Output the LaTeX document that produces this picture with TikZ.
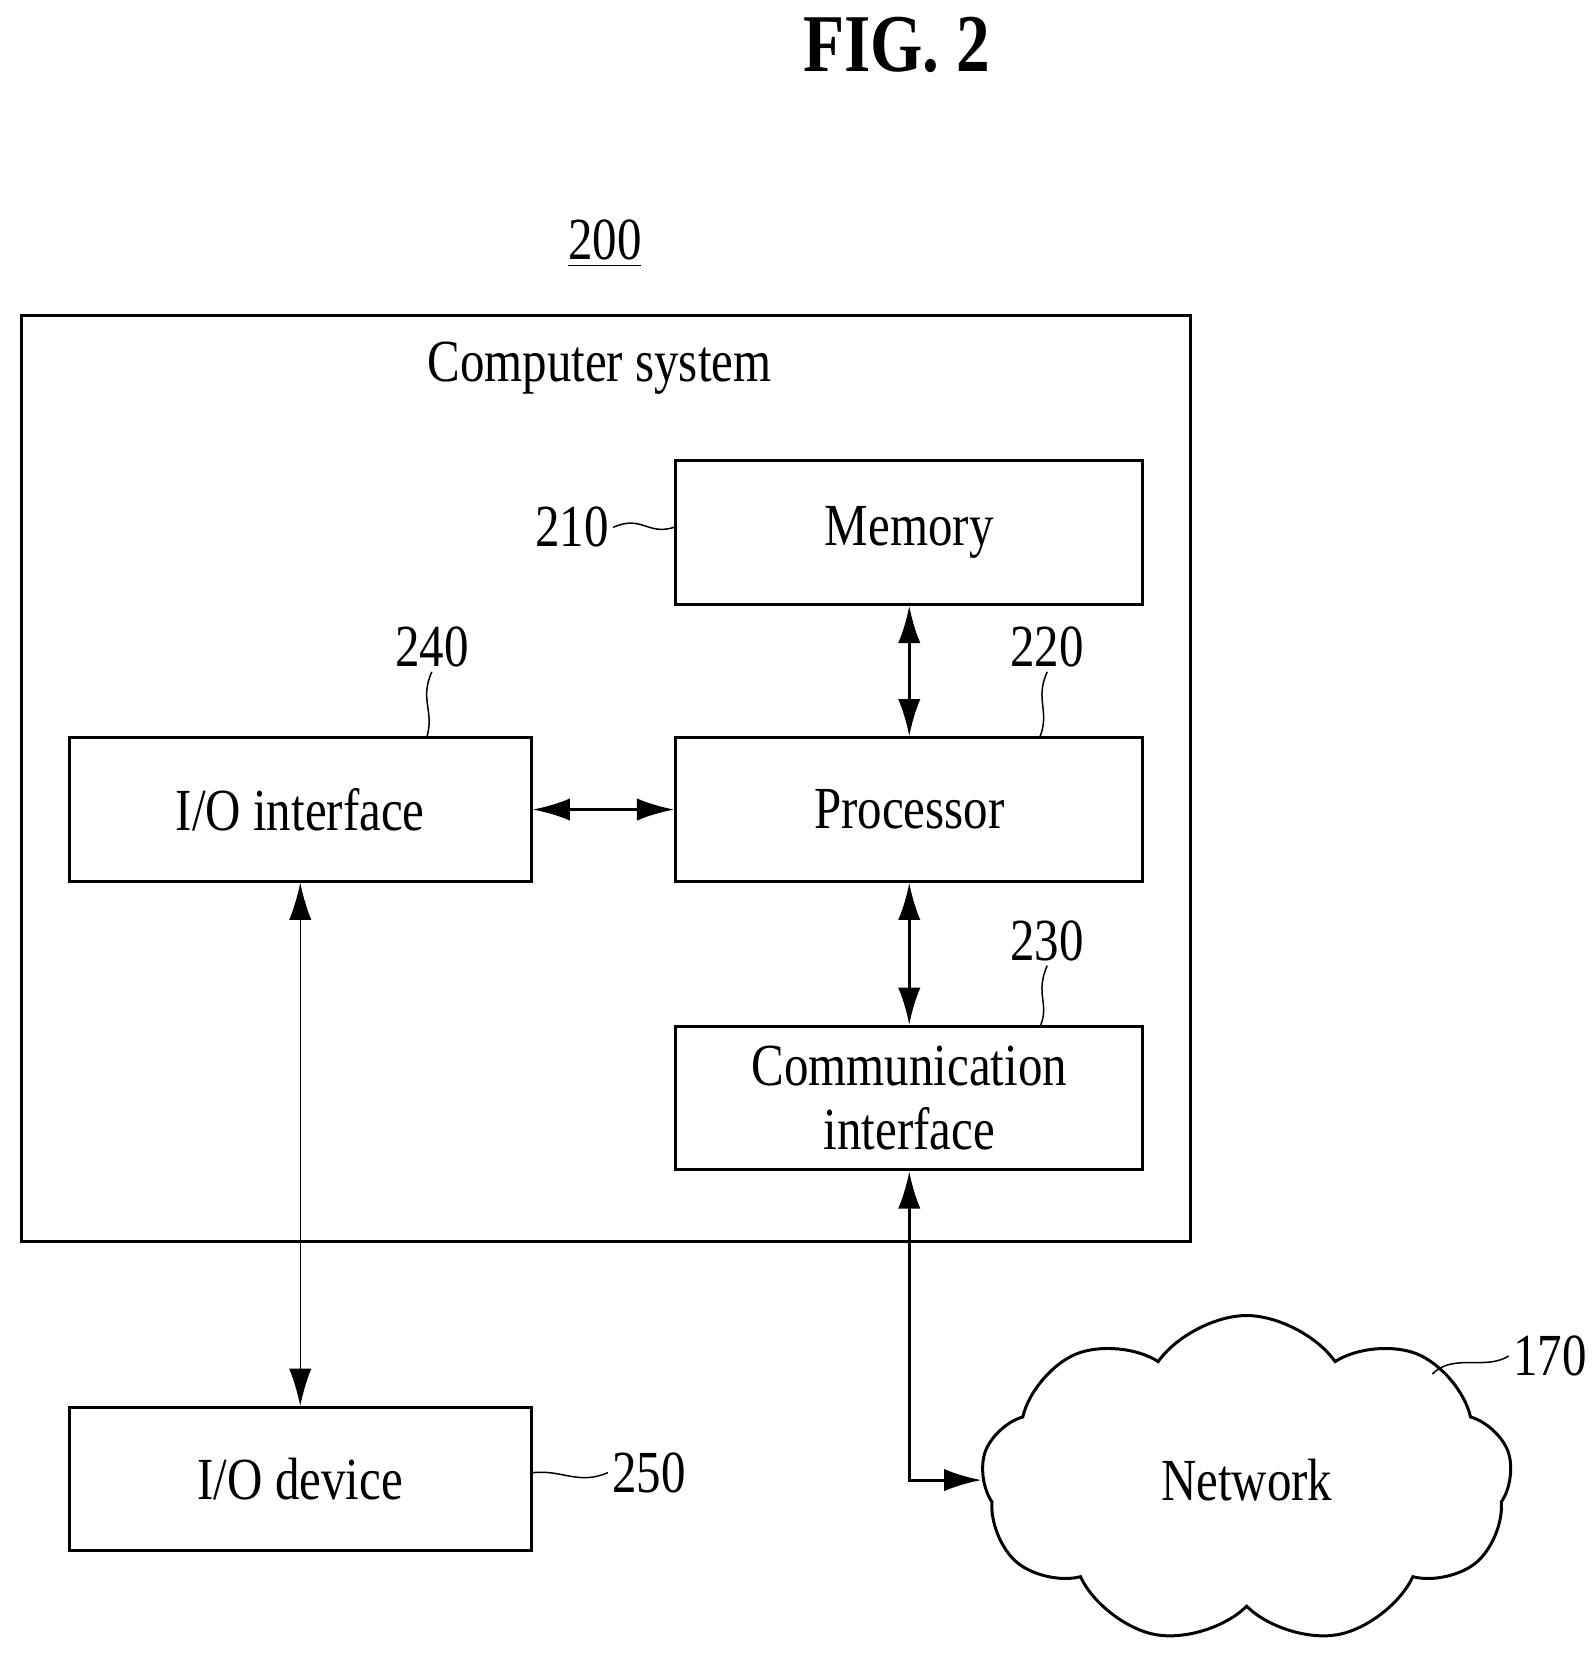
\documentclass[tikz,border=0pt]{standalone}
\usepackage{fontspec}
\setmainfont{Liberation Serif}[FakeStretch=0.82]
\usetikzlibrary{shapes.symbols,arrows.meta}
\begin{document}
\begin{tikzpicture}[x=0.01cm,y=-0.01cm,
    box/.style={draw,thick,minimum width=4.4cm,minimum height=1.35cm,align=center,inner sep=0pt,font=\fontsize{16}{17}\selectfont},
    lbl/.style={font=\fontsize{16}{17}\selectfont,inner sep=1pt},
    link/.style={thick,{Latex[length=10pt,width=6pt]}-{Latex[length=10pt,width=6pt]}}]
    \useasboundingbox (0,0) rectangle (1500,1558);
    \node[font=\bfseries\fontsize{22}{24}\selectfont] (fig) at (845,42) {FIG. 2};
    \node[lbl] (n200) at (570,230) {\underline{200}};
    \draw[thick] (20,297) rectangle (1122,1170);
    \node[lbl] (title) at (565,347) {Computer system};
    \node[box] (mem) at (857,502) {Memory};
    \node[box] (proc) at (857,763) {Processor};
    \node[box] (comm) at (857,1035) {Communication\\ interface};
    \node[box,minimum width=4.35cm] (ioif) at (283,763) {I/O interface};
    \node[box,minimum width=4.35cm] (iodev) at (283,1394) {I/O device};
    \node[cloud,draw,thick,cloud puffs=9,cloud puff arc=110,aspect=1.6,minimum width=5cm,minimum height=3.1cm,
        font=\fontsize{16}{17}\selectfont] (net) at (1175,1395) {Network};
    % labels
    \node[lbl,anchor=east] (n210) at (578,497) {210};
    \node[lbl] (n220) at (987,610) {220};
    \node[lbl] (n230) at (987,887) {230};
    \node[lbl] (n240) at (407,610) {240};
    \node[lbl,anchor=west] (n250) at (573,1388) {250};
    \node[lbl,anchor=west] (n170) at (1422,1278) {170};
    \draw (n210.east) .. controls (605,485) and (610,505) .. (mem.west |- n210.east);
    \draw (n220.south) .. controls (975,660) and (990,670) .. (980,695);
    \draw (n230.south) .. controls (975,937) and (990,947) .. (980,968);
    \draw (n240.south) .. controls (395,660) and (410,670) .. (402,696);
    \draw (iodev.east |- n250.west) .. controls (530,1385) and (545,1400) .. (n250.west);
    \draw (1350,1295) .. controls (1370,1275) and (1400,1292) .. (n170.west);
    % connectors
    \draw[link] (mem) -- (proc);
    \draw[link] (ioif) -- (proc);
    \draw[link] (proc) -- (comm);
    \draw[{Latex[length=10pt,width=6pt]}-{Latex[length=10pt,width=6pt]}] (ioif) -- (iodev);
    \draw[link] (comm.south) |- (net.west);
\end{tikzpicture}
\end{document}
